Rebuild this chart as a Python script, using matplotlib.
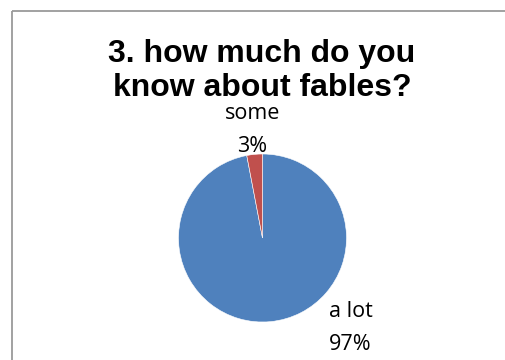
import matplotlib
matplotlib.use("Agg")
import numpy as np
from matplotlib import pyplot as plt
from matplotlib.lines import Line2D

# chart data
labels = ['a lot', 'some']
values = [97, 3]
colors = ['#4F81BD', '#C0504D']
title = '3. how much do you\nknow about fables?'

W, H = 506, 360
cx, cy, r = 262.5, 238, 84  # pie centre / radius in pixels

fig = plt.figure(figsize=(W / 100, H / 100), dpi=100)
fig.patch.set_facecolor('white')

# chart border: only the top and left edges fall inside the image
bx, by = 12.5 / W, 1 - 10.5 / H
fig.add_artist(Line2D([bx, 0.999], [by, by], transform=fig.transFigure,
                      color='#9a9a9a', linewidth=1.3, solid_capstyle='butt'))
fig.add_artist(Line2D([bx, bx], [0.001, by], transform=fig.transFigure,
                      color='#9a9a9a', linewidth=1.3, solid_capstyle='butt'))

ax = fig.add_axes([0, 0, 1, 1])
wedges, _ = ax.pie(values, colors=colors, startangle=90, counterclock=False,
                   wedgeprops=dict(edgecolor='white', linewidth=0.4))
ax.set_aspect('auto')
ax.set_xlim(-cx / r, (W - cx) / r)
ax.set_ylim((cy - H) / r, cy / r)
ax.axis('off')

lab_font = dict(family=['Open Sans', 'DejaVu Sans'], fontsize=15.5,
                color='black', ha='center', va='center')


def two_line_label(x, y, name, pct):
    ax.annotate(name, (x, y), xytext=(0, 12), textcoords='offset points', **lab_font)
    ax.annotate('%d%%' % pct, (x, y), xytext=(0, -12), textcoords='offset points', **lab_font)


# "some" label sits above its wedge
w = wedges[1]
mid = np.deg2rad((w.theta1 + w.theta2) / 2)
two_line_label(1.29 * np.cos(mid), 1.29 * np.sin(mid), labels[1], values[1])

# "a lot" label, best-fit outside lower right
two_line_label(1.048, -1.075, labels[0], values[0])

fig.text(262 / W, 1 - 39 / H, title, ha='center', va='top',
         fontsize=23, fontweight='bold', family='Liberation Sans',
         linespacing=1.17)

fig.savefig('out.png', dpi=100, facecolor='white')
